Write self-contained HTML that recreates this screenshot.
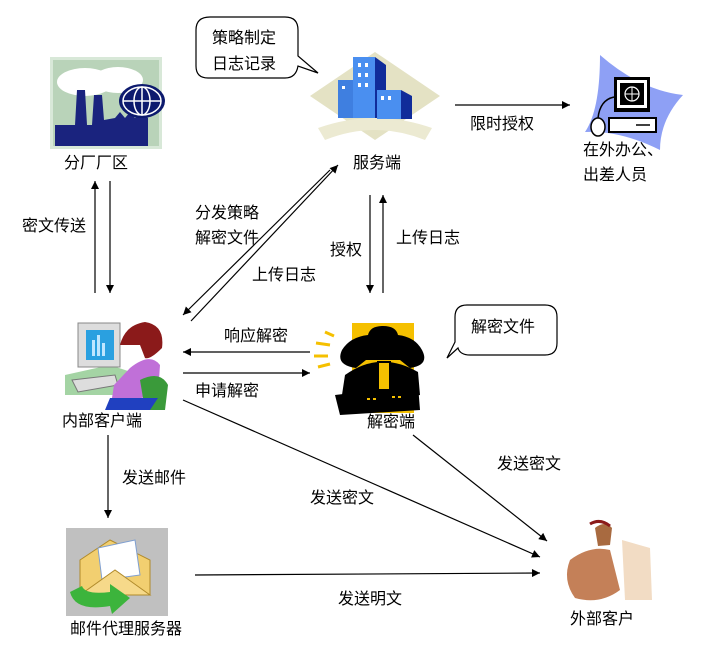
<!DOCTYPE html>
<html><head><meta charset="utf-8"><style>
html,body{margin:0;padding:0;background:#fff;}
svg{display:block;}
text{font-family:"Liberation Sans","Noto Sans CJK SC",sans-serif;font-size:16px;fill:#000;}
</style></head><body>
<svg width="721" height="669" viewBox="0 0 721 669" xmlns="http://www.w3.org/2000/svg">
<defs>
<marker id="a" viewBox="0 0 10 10" refX="10" refY="5" markerWidth="10" markerHeight="8" orient="auto" markerUnits="userSpaceOnUse"><path d="M0,0 L10,5 L0,10 z" fill="#000"/></marker>
</defs>

<g>
<rect x="50" y="57" width="112" height="92" fill="#d8e8d8"/>
<rect x="53" y="60" width="106" height="86" fill="#b9d3b9"/>
<ellipse cx="85" cy="82" rx="28" ry="14" fill="#fff"/>
<ellipse cx="118" cy="80" rx="25" ry="13" fill="#fff"/>
<path d="M55,146 L55,125 L75,125 L77,90 L85,90 L87,125 L92,125 L94,95 L102,95 L104,120 L115,118 L120,112 L125,118 L130,112 L135,118 L140,112 L148,118 L148,146 z" fill="#1a237e"/>
<ellipse cx="142" cy="101" rx="23" ry="17" fill="#0d1a6e"/>
<ellipse cx="142" cy="101" rx="19" ry="14" fill="none" stroke="#fff" stroke-width="1.5"/>
<ellipse cx="142" cy="101" rx="8" ry="14" fill="none" stroke="#fff" stroke-width="1.5"/>
<line x1="123" y1="101" x2="161" y2="101" stroke="#fff" stroke-width="1.5"/>
<line x1="142" y1="87" x2="142" y2="115" stroke="#fff" stroke-width="1.5"/>
</g>
<text x="64" y="168">分厂厂区</text>

<path d="M210,17 L285,17 Q298,17 298,30 L298,56 L318,73 L298,66 Q296,78 285,78 L208,78 Q196,78 196,66 L196,30 Q196,17 210,17 z" fill="#fff" stroke="#000" stroke-width="1.2"/>
<text x="212" y="43">策略制定</text>
<text x="212" y="69">日志记录</text>

<g>
<path d="M375,52 L440,96 L375,140 L310,96 z" fill="#e4e2c4"/>
<path d="M318,128 Q375,108 432,128 L425,140 Q375,120 325,140 z" fill="#ecead2"/>
<rect x="338" y="80" width="16" height="38" fill="#3f7fe0"/>
<rect x="353" y="78" width="5" height="40" fill="#1a3aa0"/>
<rect x="353" y="57" width="22" height="61" fill="#4a8ff0"/>
<path d="M375,57 L386,65 L386,118 L375,118 z" fill="#102c9a"/>
<rect x="377" y="90" width="24" height="29" fill="#4a8ff0"/>
<path d="M401,90 L412,96 L412,119 L401,119 z" fill="#102c9a"/>
<g fill="#fff"><rect x="358" y="63" width="3" height="4"/><rect x="365" y="63" width="3" height="4"/><rect x="358" y="73" width="3" height="4"/><rect x="365" y="73" width="3" height="4"/><rect x="358" y="83" width="3" height="4"/><rect x="365" y="83" width="3" height="4"/><rect x="381" y="96" width="3" height="4"/><rect x="388" y="96" width="3" height="4"/><rect x="342" y="86" width="3" height="3"/></g>
</g>
<text x="353" y="168">服务端</text>

<line x1="455" y1="105" x2="570" y2="105" stroke="#000" stroke-width="1.2" marker-end="url(#a)"/>
<text x="470" y="129">限时授权</text>

<g>
<path d="M600,55 Q640,90 683,95 Q660,120 660,150 Q620,130 585,132 Q600,110 600,55 z" fill="#8ea0f5"/>
<rect x="614" y="77" width="36" height="35" fill="#000"/>
<rect x="617" y="80" width="30" height="28" fill="#fff"/>
<rect x="620" y="83" width="24" height="22" fill="#000"/>
<circle cx="632" cy="94" r="7" fill="none" stroke="#fff" stroke-width="1.2"/>
<line x1="625" y1="94" x2="639" y2="94" stroke="#fff"/><line x1="632" y1="87" x2="632" y2="101" stroke="#fff"/>
<rect x="609" y="118" width="47" height="14" fill="#fff" stroke="#000" stroke-width="2"/>
<line x1="636" y1="125" x2="650" y2="125" stroke="#000" stroke-width="1.5"/>
<ellipse cx="598" cy="127" rx="7" ry="9" fill="#fff" stroke="#000" stroke-width="1.5"/>
<path d="M598,118 Q600,100 614,97" fill="none" stroke="#000" stroke-width="1.5"/>
</g>
<text x="583" y="155">在外办公、</text>
<text x="583" y="180">出差人员</text>

<line x1="95" y1="293" x2="95" y2="181" stroke="#000" stroke-width="1.2" marker-end="url(#a)"/>
<line x1="110" y1="181" x2="110" y2="293" stroke="#000" stroke-width="1.2" marker-end="url(#a)"/>
<text x="22" y="231">密文传送</text>

<line x1="330" y1="170" x2="183" y2="315" stroke="#000" stroke-width="1.2" marker-end="url(#a)"/>
<line x1="191" y1="321" x2="338" y2="165" stroke="#000" stroke-width="1.2" marker-end="url(#a)"/>
<text x="195" y="218">分发策略</text>
<text x="195" y="243">解密文件</text>
<text x="252" y="280">上传日志</text>

<line x1="370" y1="195" x2="370" y2="293" stroke="#000" stroke-width="1.2" marker-end="url(#a)"/>
<line x1="383" y1="293" x2="383" y2="195" stroke="#000" stroke-width="1.2" marker-end="url(#a)"/>
<text x="330" y="255">授权</text>
<text x="396" y="243">上传日志</text>

<g>
<path d="M65,375 L110,365 L140,375 L140,395 L65,395 z" fill="#a4d4a4"/>
<rect x="78" y="323" width="42" height="44" fill="#ddd" stroke="#888"/>
<rect x="86" y="330" width="28" height="30" fill="#2aa0e0"/>
<rect x="92" y="340" width="3" height="16" fill="#bfe6ff"/><rect x="97" y="335" width="3" height="21" fill="#bfe6ff"/><rect x="102" y="343" width="3" height="13" fill="#bfe6ff"/>
<path d="M72,380 L115,375 L118,385 L78,392 z" fill="#ddd" stroke="#777"/>
<path d="M120,345 Q125,325 145,322 Q165,325 162,348 Q150,360 145,358 L140,345 z" fill="#8b1a1a"/>
<path d="M130,368 Q150,352 160,365 L158,395 L130,400 L112,398 L114,385 z" fill="#c070d8"/>
<path d="M140,380 Q160,370 168,385 L165,410 L145,410 z" fill="#3a9a3a"/>
<path d="M110,398 L158,398 L150,410 L105,410 z" fill="#2040c0"/>
</g>
<text x="62" y="426">内部客户端</text>

<line x1="310" y1="352" x2="183" y2="352" stroke="#000" stroke-width="1.2" marker-end="url(#a)"/>
<line x1="183" y1="373" x2="310" y2="373" stroke="#000" stroke-width="1.2" marker-end="url(#a)"/>
<text x="224" y="341">响应解密</text>
<text x="195" y="396">申请解密</text>

<g>
<rect x="352" y="323" width="62" height="90" fill="#f5c000"/>
<g stroke="#f5c000" stroke-width="3"><line x1="325" y1="332" x2="334" y2="336"/><line x1="316" y1="343" x2="330" y2="345"/><line x1="314" y1="356" x2="328" y2="356"/><line x1="318" y1="367" x2="330" y2="364"/></g>
<path d="M368,335 Q370,326 383,326 Q396,326 398,335 Q415,337 422,350 Q430,365 410,368 L400,360 L366,360 L356,368 Q335,365 342,350 Q350,337 368,335 z" fill="#000"/>
<path d="M345,375 Q380,350 418,372 L420,395 L340,408 z" fill="#000"/>
<path d="M335,395 L418,385 L420,410 L340,415 z" fill="#000"/>
<rect x="378" y="362" width="12" height="28" fill="#f5c000" stroke="#000" stroke-width="2"/>
<g fill="#f5c000"><rect x="367" y="398" width="3" height="2"/><rect x="373" y="398" width="3" height="2"/><rect x="392" y="396" width="3" height="2"/><rect x="398" y="396" width="3" height="2"/></g>
</g>
<text x="367" y="427">解密端</text>

<path d="M467,305 L545,305 Q557,305 557,317 L557,343 Q557,355 545,355 L470,355 Q460,355 458,348 L447,358 L455,342 L455,317 Q455,305 467,305 z" fill="#fff" stroke="#000" stroke-width="1.2"/>
<text x="471" y="332">解密文件</text>

<line x1="108" y1="435" x2="108" y2="518" stroke="#000" stroke-width="1.2" marker-end="url(#a)"/>
<text x="122" y="483">发送邮件</text>

<line x1="183" y1="400" x2="540" y2="557" stroke="#000" stroke-width="1.2" marker-end="url(#a)"/>
<text x="310" y="503">发送密文</text>
<line x1="413" y1="435" x2="547" y2="541" stroke="#000" stroke-width="1.2" marker-end="url(#a)"/>
<text x="497" y="469">发送密文</text>

<g>
<rect x="66" y="528" width="102" height="88" fill="#c0c0c0"/>
<path d="M80,560 L110,540 L150,560 L150,595 L80,595 z" fill="#f2cf70" stroke="#b08a2a"/>
<path d="M98,548 L135,540 L140,575 L102,580 z" fill="#fff" stroke="#7f9fd0"/>
<path d="M80,595 L115,570 L150,595 z" fill="#f6d98a" stroke="#b08a2a"/>
<path d="M70,592 Q75,612 110,606 L112,614 L130,598 L110,584 L110,592 Q85,595 82,586 z" fill="#3cb43c"/>
</g>
<text x="70" y="634">邮件代理服务器</text>

<line x1="195" y1="575" x2="540" y2="573" stroke="#000" stroke-width="1.2" marker-end="url(#a)"/>
<text x="338" y="604">发送明文</text>

<g>
<path d="M595,528 Q605,520 612,528 L610,545 L598,546 z" fill="#a86a40"/>
<path d="M590,524 Q600,518 610,526" fill="none" stroke="#8b1a1a" stroke-width="3"/>
<path d="M570,560 Q590,545 610,550 L620,590 Q600,605 575,598 Q562,580 570,560 z" fill="#c48058"/>
<path d="M622,540 L650,548 L652,600 L625,600 z" fill="#f2dcc4"/>
</g>
<text x="570" y="624">外部客户</text>
</svg>
</body></html>
